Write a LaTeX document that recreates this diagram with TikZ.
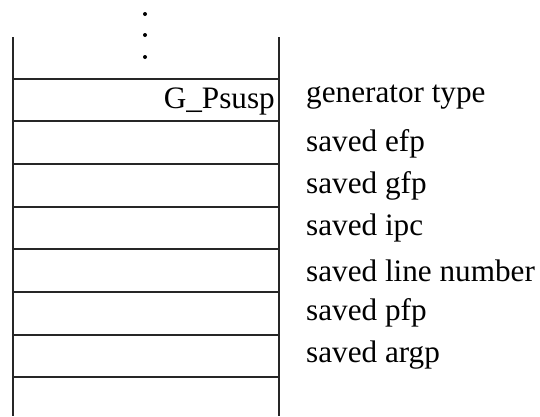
\documentclass[tikz,border=0pt]{standalone}
\usepackage{fontspec}
\setmainfont{Liberation Serif}
\begin{document}
\begin{tikzpicture}[x=1pt,y=-1pt,
  rule/.style={line width=1.4pt, black!85},
  lab/.style={anchor=base west, inner sep=0pt, font=\fontsize{31.2}{36}\selectfont},
  cell/.style={anchor=base east, inner sep=0pt, font=\fontsize{31.2}{36}\selectfont},
  dot/.style={circle, fill=black, inner sep=0pt, minimum size=4pt}]
\useasboundingbox (0,0) rectangle (540,416);
% dots
\node[dot] (d1) at (145,14) {};
\node[dot] (d2) at (145,35) {};
\node[dot] (d3) at (145,57) {};
% stack sides
\draw[rule] (13,37) -- (13,416);
\draw[rule] (279,37) -- (279,416);
% row separators
\foreach \yy in {79,121,164,207,249,292,335,377}
  \draw[rule] (13,\yy) -- (279,\yy);
% cell text
\node[cell] (gp) at (275,108) {G\_Psusp};
% labels
\node[lab] (l1) at (306,102) {generator type};
\node[lab] (l2) at (306,151) {saved efp};
\node[lab] (l3) at (306,193) {saved gfp};
\node[lab] (l4) at (306,235) {saved ipc};
\node[lab] (l5) at (306,281) {saved line number};
\node[lab] (l6) at (306,320) {saved pfp};
\node[lab] (l7) at (306,362) {saved argp};
\end{tikzpicture}
\end{document}
